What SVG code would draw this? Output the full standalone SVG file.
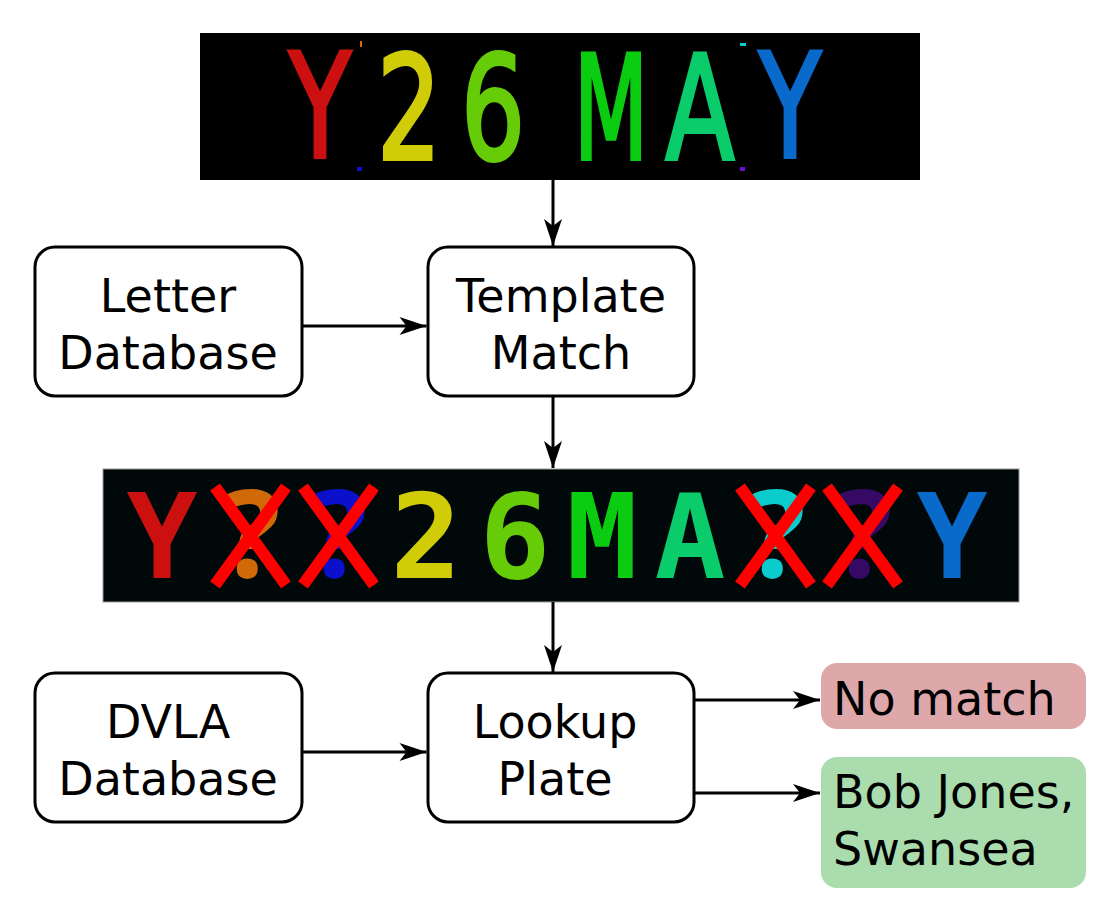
<svg xmlns="http://www.w3.org/2000/svg" width="1120" height="923" viewBox="0 0 1120 923">
<defs>
<style>
.box{fill:#fff;stroke:#000;stroke-width:3}
.lbl{font-family:"DejaVu Sans","Noto Sans",sans-serif;font-size:46px;fill:#000}
.mid{text-anchor:middle}
.conn{stroke:#000;stroke-width:3;fill:none}
.thin{font-family:"DejaVu Sans",sans-serif;font-size:144px;text-anchor:middle;stroke-width:4}
.bold{font-family:"DejaVu Sans Mono",monospace;font-weight:bold;font-size:118px;text-anchor:middle}
.q{font-family:"Noto Sans","Open Sans",sans-serif;font-weight:bold;font-size:122px;text-anchor:middle}
.x{stroke:#ff0000;stroke-width:12}
</style>
<marker id="ah" markerUnits="userSpaceOnUse" markerWidth="30" markerHeight="20" viewBox="-28 -10 30 20" refX="0" refY="0" orient="auto">
<path d="M0,0 L-27,-9 L-20,0 L-27,9 Z" fill="#000"/>
</marker>
</defs>
<rect width="1120" height="923" fill="#fff"/>

<g id="plate-raw">
<rect x="200" y="33" width="720" height="147" fill="#000"/>
<text class="thin" transform="translate(320,157) scale(0.7,1)" fill="#cc1010" stroke="#cc1010">Y</text>
<text class="thin" transform="translate(409,159) scale(0.7,1)" fill="#d0cc08" stroke="#d0cc08">2</text>
<text class="thin" transform="translate(493,159) scale(0.7,1)" fill="#66cc08" stroke="#66cc08">6</text>
<text class="thin" transform="translate(611,159) scale(0.6,1)" fill="#0acc10" stroke="#0acc10">M</text>
<text class="thin" transform="translate(700,159) scale(0.7,1)" fill="#0acc6a" stroke="#0acc6a">A</text>
<text class="thin" transform="translate(790,157) scale(0.7,1)" fill="#0a6acc" stroke="#0a6acc">Y</text>
<rect x="360" y="41" width="2" height="6" fill="#d06a08"/>
<rect x="357" y="167" width="5" height="4" fill="#1010cc"/>
<rect x="740" y="43" width="6" height="3" fill="#0acccc"/>
<rect x="740" y="167" width="5" height="4" fill="#6a10cc"/>
</g>

<g id="letter-db">
<rect class="box" x="35" y="247" width="267" height="149" rx="20"/>
<text class="lbl mid" x="168" y="312">Letter</text>
<text class="lbl mid" x="168" y="369">Database</text>
</g>

<g id="template-match">
<rect class="box" x="428" y="247" width="266" height="149" rx="20"/>
<text class="lbl mid" x="561" y="312">Template</text>
<text class="lbl mid" x="561" y="369">Match</text>
</g>

<g id="plate-matched">
<rect x="103" y="469" width="916" height="133" fill="#00080a" stroke="#9a9a9a" stroke-width="1"/>
<text class="bold" x="162" y="578" fill="#cc1010">Y</text>
<text class="q" x="251" y="577" fill="#d06a08">?</text>
<text class="q" x="338" y="577" fill="#0a10cc">?</text>
<text class="bold" x="426" y="578" fill="#d0cc08">2</text>
<text class="bold" x="515" y="578" fill="#66cc08">6</text>
<text class="bold" x="602" y="578" fill="#0acc10">M</text>
<text class="bold" x="690" y="578" fill="#0acc6a">A</text>
<text class="q" x="776" y="577" fill="#0acccc">?</text>
<text class="q" x="863" y="577" fill="#360a64">?</text>
<text class="bold" x="952" y="578" fill="#0a6acc">Y</text>
<line class="x" x1="215" y1="487" x2="286" y2="585"/>
<line class="x" x1="286" y1="487" x2="215" y2="585"/>
<line class="x" x1="303" y1="487" x2="374" y2="585"/>
<line class="x" x1="374" y1="487" x2="303" y2="585"/>
<line class="x" x1="740" y1="487" x2="811" y2="585"/>
<line class="x" x1="811" y1="487" x2="740" y2="585"/>
<line class="x" x1="827" y1="487" x2="898" y2="585"/>
<line class="x" x1="898" y1="487" x2="827" y2="585"/>
</g>

<g id="dvla-db">
<rect class="box" x="35" y="673" width="267" height="149" rx="20"/>
<text class="lbl mid" x="168" y="738">DVLA</text>
<text class="lbl mid" x="168" y="795">Database</text>
</g>

<g id="lookup-plate">
<rect class="box" x="428" y="673" width="266" height="149" rx="20"/>
<text class="lbl mid" x="555" y="738">Lookup</text>
<text class="lbl mid" x="555" y="795">Plate</text>
</g>

<g id="no-match">
<rect x="821" y="663" width="265" height="66" rx="16" fill="#dea8ab"/>
<text class="lbl" x="833" y="715">No match</text>
</g>

<g id="bob-jones">
<rect x="821" y="757" width="265" height="131" rx="16" fill="#aadcad"/>
<text class="lbl" x="833" y="808">Bob Jones,</text>
<text class="lbl" x="833" y="865">Swansea</text>
</g>

<g id="connectors">
<line class="conn" x1="553" y1="180" x2="553" y2="246" marker-end="url(#ah)"/>
<line class="conn" x1="302" y1="326" x2="426.5" y2="326" marker-end="url(#ah)"/>
<line class="conn" x1="553" y1="396" x2="553" y2="468" marker-end="url(#ah)"/>
<line class="conn" x1="553" y1="602" x2="553" y2="672" marker-end="url(#ah)"/>
<line class="conn" x1="302" y1="752" x2="426.5" y2="752" marker-end="url(#ah)"/>
<line class="conn" x1="694" y1="700" x2="820" y2="700" marker-end="url(#ah)"/>
<line class="conn" x1="694" y1="793" x2="820" y2="793" marker-end="url(#ah)"/>
</g>
</svg>
